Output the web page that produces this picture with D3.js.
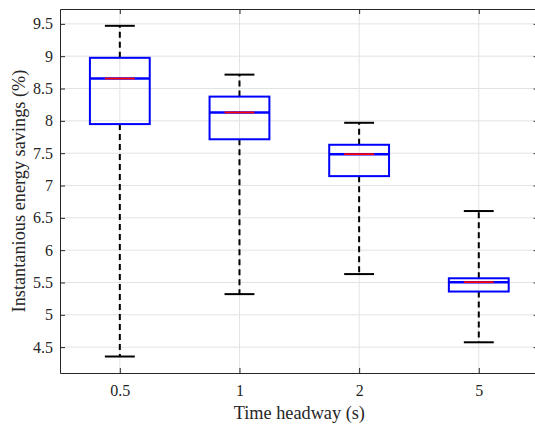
<!DOCTYPE html>
<html><head><meta charset="utf-8">
<script src="https://cdn.jsdelivr.net/npm/d3@7"></script>
<style>html,body{margin:0;padding:0;background:#fff;overflow:hidden}svg{display:block}</style>
</head><body>
<script>
const categories = ["0.5", "1", "2", "5"];
const whiskerLow = [4.355, 5.32, 5.63, 4.575];
const q1 = [7.95, 7.715, 7.145, 5.36];
const median = [8.655, 8.13, 7.485, 5.505];
const q3 = [8.975, 8.375, 7.63, 5.565];
const whiskerHigh = [9.47, 8.715, 7.97, 6.605];
const yTicks = [4.5, 5, 5.5, 6, 6.5, 7, 7.5, 8, 8.5, 9, 9.5];
const yDomain = [4.1, 9.73];

const W = 535, H = 425;
const m = {left: 60, top: 9, right: 538.6, bottom: 373};
const FONT = "'Liberation Serif', 'Times New Roman', serif";
const svg = d3.select("body").append("svg").attr("width", W).attr("height", H)
  .style("font-family", FONT);

const idx = d3.range(categories.length);
const x = d3.scaleLinear().domain([0.5, categories.length + 0.5]).range([m.left, m.right]);
const y = d3.scaleLinear().domain(yDomain).range([m.bottom, m.top]);
const step = x(2) - x(1);
const halfBox = step * 0.25, halfCap = step * 0.125;

// grid
svg.append("g").selectAll("line").data(yTicks).join("line")
  .attr("x1", m.left).attr("x2", m.right).attr("y1", d => y(d)).attr("y2", d => y(d))
  .attr("stroke", "#e3e3e3").attr("stroke-width", 1);
svg.append("g").selectAll("line").data(idx).join("line")
  .attr("y1", m.top).attr("y2", m.bottom).attr("x1", i => x(i + 1)).attr("x2", i => x(i + 1))
  .attr("stroke", "#e3e3e3").attr("stroke-width", 1);

// axes
const yAxis = d3.axisLeft(y).tickValues(yTicks).tickFormat(d3.format("~g")).tickSizeInner(-5).tickSizeOuter(0).tickPadding(7);
const gy = svg.append("g").attr("transform", `translate(${m.left},0)`).call(yAxis);
const yAxisR = d3.axisRight(y).tickValues(yTicks).tickFormat("").tickSizeInner(-5).tickSizeOuter(0);
const gyr = svg.append("g").attr("transform", `translate(${m.right},0)`).call(yAxisR);
const xAxis = d3.axisBottom(x).tickValues(idx.map(i => i + 1)).tickFormat(d => categories[d - 1]).tickSizeInner(-5).tickSizeOuter(0).tickPadding(12);
const gx = svg.append("g").attr("transform", `translate(0,${m.bottom})`).call(xAxis);
const xAxisT = d3.axisTop(x).tickValues(idx.map(i => i + 1)).tickFormat("").tickSizeInner(-5).tickSizeOuter(0);
const gxt = svg.append("g").attr("transform", `translate(0,${m.top})`).call(xAxisT);
[gy, gyr, gx, gxt].forEach(g => {
  g.select(".domain").attr("stroke", "#262626").attr("stroke-width", 1);
  g.selectAll(".tick line").attr("stroke", "#262626");
  g.selectAll("text").attr("fill", "#262626").style("font-size", "16px")
   .style("font-family", FONT);
});

// boxes
const g = svg.append("g");
idx.forEach(i => {
  const cx = x(i + 1);
  g.append("line").attr("x1", cx).attr("x2", cx).attr("y1", y(q3[i])).attr("y2", y(whiskerHigh[i]))
    .attr("stroke", "#000").attr("stroke-width", 2).attr("stroke-dasharray", "6,4");
  g.append("line").attr("x1", cx).attr("x2", cx).attr("y1", y(q1[i])).attr("y2", y(whiskerLow[i]))
    .attr("stroke", "#000").attr("stroke-width", 2).attr("stroke-dasharray", "6,4");
  [whiskerHigh[i], whiskerLow[i]].forEach(v => {
    g.append("line").attr("x1", cx - halfCap).attr("x2", cx + halfCap).attr("y1", y(v)).attr("y2", y(v))
      .attr("stroke", "#000").attr("stroke-width", 2);
  });
  g.append("rect").attr("x", cx - halfBox).attr("width", 2 * halfBox)
    .attr("y", y(q3[i])).attr("height", y(q1[i]) - y(q3[i]))
    .attr("fill", "none").attr("stroke", "#0000ff").attr("stroke-width", 2);
  g.append("line").attr("x1", cx - halfBox).attr("x2", cx + halfBox).attr("y1", y(median[i])).attr("y2", y(median[i]))
    .attr("stroke", "#0000ff").attr("stroke-width", 2.5);
  g.append("line").attr("x1", cx - halfCap).attr("x2", cx + halfCap).attr("y1", y(median[i])).attr("y2", y(median[i]))
    .attr("stroke", "#ff0000").attr("stroke-width", 1.8);
});

// labels
svg.append("text").attr("x", (m.left + m.right) / 2).attr("y", 419).attr("text-anchor", "middle")
  .style("font-size", "18.3px").attr("fill", "#262626").text("Time headway (s)");
svg.append("text").attr("transform", `translate(25,${(m.top + m.bottom) / 2}) rotate(-90)`).attr("text-anchor", "middle")
  .style("font-size", "18.3px").attr("fill", "#262626").text("Instantanious energy savings (%)");
</script>
</body></html>
